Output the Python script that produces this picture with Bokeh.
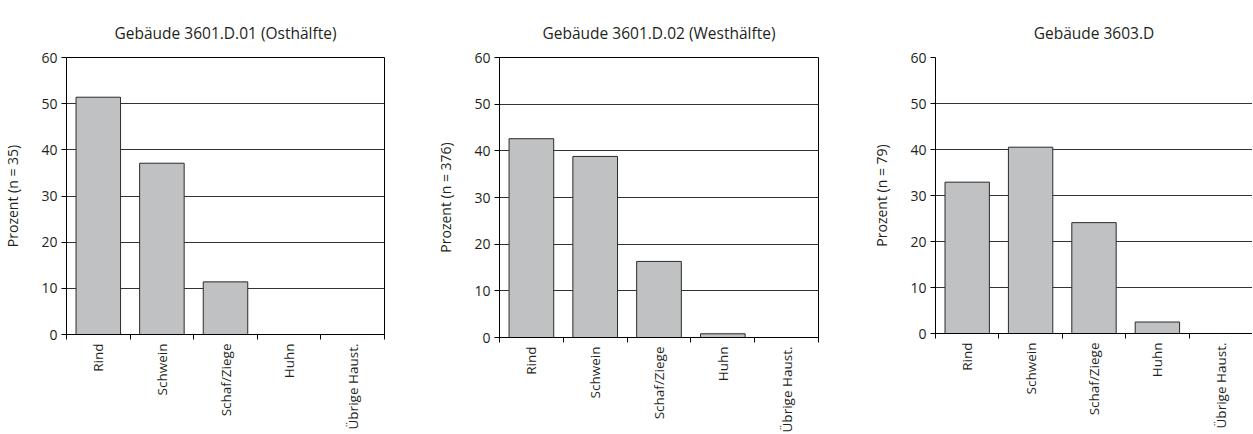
import math
from bokeh.plotting import figure
from bokeh.layouts import row
from bokeh.models import Range1d, FixedTicker
from bokeh.embed import file_html
from bokeh.resources import INLINE

categories = ["Rind", "Schwein", "Schaf/Ziege", "Huhn", "Übrige Haust."]
titles = ["Gebäude 3601.D.01 (Osthälfte)", "Gebäude 3601.D.02 (Westhälfte)", "Gebäude 3603.D"]
ylabels = ["Prozent (n = 35)", "Prozent (n = 376)", "Prozent (n = 79)"]
vals_d01 = [51.4, 37.1, 11.4, 0.0, 0.0]
vals_d02 = [42.6, 38.8, 16.3, 0.8, 0.0]
vals_3603 = [32.9, 40.5, 24.1, 2.5, 0.0]
yticks = [0, 10, 20, 30, 40, 50, 60]

FONT = "Open Sans"
TXT = "#231f20"

# layout settings per panel: (min_border_left, frame_width, min_border_right, min_border_top, frame_height, outline)
layouts = [
    (59, 318, 40, 56, 277, True),
    (75, 319, 42, 56, 280, True),
    (75, 317, 0, 57, 276, False),
]
series = [vals_d01, vals_d02, vals_3603]

figs = []
for (mbl, fw, mbr, mbt, fh, outline), vals, t, yl in zip(layouts, series, titles, ylabels):
    p = figure(frame_width=fw, frame_height=fh, output_backend="svg", toolbar_location=None,
               x_range=Range1d(-0.5, 4.5), y_range=Range1d(0, 60),
               min_border_left=mbl, min_border_right=mbr, min_border_top=mbt, min_border_bottom=0)
    xs = list(range(len(categories)))
    p.vbar(x=xs, top=vals, width=0.7, bottom=0, fill_color="#bfc1c3", line_color="#2a2a2a", line_width=1)
    p.title.text = t
    p.title.align = "center"
    p.title.text_font = FONT
    p.title.text_font_size = "15.5px"
    p.title.text_font_style = "normal"
    p.title.text_color = TXT
    p.title.standoff = 28
    p.outline_line_color = "black" if outline else None
    p.outline_line_width = 1
    p.background_fill_color = "white"
    p.border_fill_color = "white"

    p.xgrid.grid_line_color = None
    p.ygrid.ticker = FixedTicker(ticks=yticks)
    p.ygrid.grid_line_color = "#333333"
    p.ygrid.grid_line_width = 1

    ya = p.yaxis[0]
    ya.ticker = FixedTicker(ticks=yticks)
    ya.axis_label = yl
    ya.axis_label_text_font = FONT
    ya.axis_label_text_font_size = "14px"
    ya.axis_label_text_font_style = "normal"
    ya.axis_label_text_color = TXT
    ya.axis_label_standoff = 16
    ya.major_label_text_font = FONT
    ya.major_label_text_font_size = "14px"
    ya.major_label_text_color = TXT
    ya.major_label_standoff = 4
    ya.major_tick_out = 5
    ya.major_tick_in = 0
    ya.minor_tick_out = 0
    ya.minor_tick_in = 0
    ya.axis_line_color = "black"
    ya.major_tick_line_color = "black"

    xa = p.xaxis[0]
    xa.ticker = FixedTicker(ticks=xs, minor_ticks=[i - 0.5 for i in range(len(categories) + 1)])
    xa.major_label_overrides = {i: c for i, c in enumerate(categories)}
    xa.major_label_orientation = math.pi / 2
    xa.major_label_text_font = FONT
    xa.major_label_text_font_size = "13.5px"
    xa.major_label_text_color = TXT
    xa.major_label_standoff = 4
    xa.major_tick_out = 0
    xa.major_tick_in = 0
    xa.minor_tick_out = 5
    xa.minor_tick_in = 0
    xa.minor_tick_line_color = "black"
    xa.axis_line_color = "black"
    figs.append(p)

layout = row(*figs)
open("out.html", "w").write(file_html(layout, INLINE))
